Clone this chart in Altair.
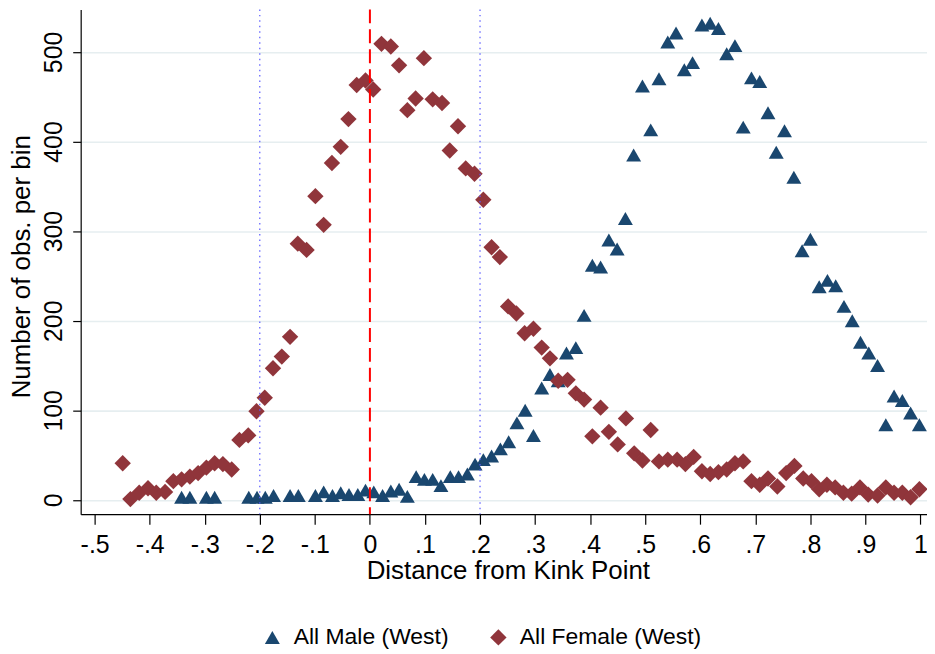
import altair as alt
import pandas as pd

# ---- data ----
male_x = [-0.342, -0.327, -0.297, -0.282, -0.220, -0.205, -0.190, -0.175, -0.145, -0.130,
          -0.099, -0.084, -0.068, -0.053, -0.038, -0.022, -0.008, 0.007, 0.023, 0.038,
          0.053, 0.068, 0.084, 0.099, 0.114, 0.129, 0.146, 0.161, 0.177, 0.191,
          0.206, 0.221, 0.237, 0.252, 0.267, 0.282, 0.297, 0.312, 0.327, 0.342,
          0.357, 0.374, 0.389, 0.404, 0.419, 0.434, 0.449, 0.464, 0.479, 0.495,
          0.510, 0.525, 0.541, 0.556, 0.571, 0.586, 0.603, 0.618, 0.633, 0.648,
          0.663, 0.678, 0.693, 0.708, 0.723, 0.738, 0.753, 0.770, 0.785, 0.800,
          0.816, 0.831, 0.846, 0.861, 0.876, 0.891, 0.906, 0.922, 0.937, 0.952,
          0.967, 0.982, 0.998]
male_y = [3, 3, 3, 3, 3, 3, 3, 5, 5, 5,
          5, 9, 5, 8, 6, 6, 11, 9, 5, 10,
          12, 4, 26, 23, 23, 16, 26, 26, 29, 40,
          45, 49, 57, 65, 86, 100, 72, 125, 140, 133,
          164, 170, 206, 262, 260, 290, 280, 314, 385, 462,
          413, 470, 511, 521, 480, 488, 530, 532, 526, 498,
          507, 416, 471, 467, 432, 388, 412, 360, 278, 291,
          238, 245, 239, 216, 200, 176, 164, 150, 84, 116,
          111, 97, 84]

female_x = [-0.449, -0.435, -0.419, -0.403, -0.388, -0.372, -0.357, -0.342, -0.327, -0.312,
            -0.297, -0.282, -0.267, -0.251, -0.237, -0.221, -0.206, -0.191, -0.176, -0.160,
            -0.145, -0.131, -0.115, -0.099, -0.084, -0.069, -0.053, -0.039, -0.024, -0.008,
            0.006, 0.021, 0.038, 0.053, 0.068, 0.083, 0.098, 0.114, 0.131, 0.145,
            0.160, 0.174, 0.190, 0.206, 0.221, 0.236, 0.251, 0.266, 0.281, 0.297,
            0.312, 0.327, 0.342, 0.359, 0.374, 0.389, 0.404, 0.419, 0.434, 0.450,
            0.465, 0.480, 0.495, 0.510, 0.525, 0.541, 0.558, 0.573, 0.588, 0.603,
            0.618, 0.633, 0.648, 0.663, 0.678, 0.693, 0.708, 0.723, 0.740, 0.756,
            0.771, 0.787, 0.802, 0.816, 0.830, 0.845, 0.860, 0.875, 0.890, 0.905,
            0.922, 0.937, 0.952, 0.967, 0.982, 0.998]
female_y = [41, 1, 8, 13, 8, 9, 21, 23, 26, 30,
            36, 41, 40, 34, 67, 72, 99, 114, 147, 160,
            182, 286, 279, 339, 307, 376, 394, 425, 463, 468,
            458, 509, 506, 485, 435, 448, 493, 447, 443, 390,
            417, 370, 364, 335, 282, 271, 216, 208, 186, 191,
            170, 158, 133, 134, 119, 112, 71, 103, 76, 62,
            91, 52, 44, 78, 43, 45, 45, 40, 48, 32,
            29, 31, 34, 41, 43, 21, 17, 24, 15, 30,
            38, 24, 21, 12, 17, 14, 8, 7, 14, 6,
            5, 14, 8, 8, 3, 12]

series_names = ["All Male (West)", "All Female (West)"]
series_colors = ["#1a476f", "#90353b"]
series_shapes = ["triangle-up", "diamond"]

x_ticks = [-0.5, -0.4, -0.3, -0.2, -0.1, 0.0, 0.1, 0.2, 0.3, 0.4, 0.5, 0.6, 0.7, 0.8, 0.9, 1.0]
x_tick_labels = ["-.5", "-.4", "-.3", "-.2", "-.1", "0", ".1", ".2", ".3", ".4", ".5",
                 ".6", ".7", ".8", ".9", "1"]
y_ticks = [0, 100, 200, 300, 400, 500]

kink_line = [0.0]
window_lines = [-0.2, 0.2]

# ---- tables ----
points = pd.concat([
    pd.DataFrame({"x": male_x, "count": male_y, "series": series_names[0]}),
    pd.DataFrame({"x": female_x, "count": female_y, "series": series_names[1]}),
], ignore_index=True)
kink_df = pd.DataFrame({"x": kink_line})
window_df = pd.DataFrame({"x": window_lines})

FONT = "Liberation Sans"
label_array = "[" + ",".join("'" + s + "'" for s in x_tick_labels) + "]"

x_scale = alt.Scale(domain=[-0.5253, 1.0118], nice=False, zero=False)
y_scale = alt.Scale(domain=[-15.9, 547.4], nice=False, zero=False)

X = alt.X(
    "x:Q",
    scale=x_scale,
    axis=alt.Axis(
        values=x_ticks,
        labelExpr=label_array + "[round((datum.value + 0.5) * 10)]",
        title="Distance from Kink Point",
        tickSize=10,
        labelPadding=8,
        labelFontSize=25,
        titleFontSize=26,
        titleX=429,
        titleY=65,
        titleAlign="center",
        titleBaseline="alphabetic",
        grid=False,
    ),
)
Y = alt.Y(
    "count:Q",
    scale=y_scale,
    axis=alt.Axis(
        values=y_ticks,
        format="d",
        title="Number of obs. per bin",
        labelAngle=270,
        labelAlign="center",
        labelBaseline="alphabetic",
        labelPadding=11,
        tickSize=8,
        labelFontSize=25,
        titleFontSize=26,
        titleAngle=270,
        titleX=-59,
        titleY=258,
        titleAlign="center",
        titleBaseline="middle",
        grid=True,
        gridColor="#e6eef0",
        gridWidth=1.6,
    ),
)

pts = alt.Chart(points).mark_point(filled=True, opacity=1, strokeWidth=0).encode(
    x=X,
    y=Y,
    color=alt.Color("series:N", scale=alt.Scale(domain=series_names, range=series_colors),
                    legend=alt.Legend(title=None, orient="none", direction="horizontal",
                                      legendX=181, legendY=619, labelFontSize=23,
                                      labelFont=FONT, labelOffset=10, columnPadding=38,
                                      labelLimit=0, symbolSize=240, symbolStrokeWidth=0,
                                      padding=0, labelColor="black")),
    shape=alt.Shape("series:N", scale=alt.Scale(domain=series_names, range=series_shapes)),
    size=alt.Size("series:N", scale=alt.Scale(domain=series_names, range=[225, 270]),
                  legend=None),
    order=alt.Order("order_idx:Q"),
).transform_calculate(order_idx="datum.series == '" + series_names[0] + "' ? 0 : 1")

windows = alt.Chart(window_df).mark_rule(color="#5a5aff", strokeWidth=1.2,
                                         strokeDash=[1.5, 4]).encode(x=X)
kink = alt.Chart(kink_df).mark_rule(color="#ff0000", strokeWidth=2,
                                    strokeDash=[14, 6]).encode(x=X)

chart = alt.layer(pts, windows, kink).properties(
    width=850,
    height=507,
    padding={"left": 73, "top": 0, "right": 0, "bottom": 139},
    autosize=alt.AutoSizeParams(type="none"),
    background="white",
).configure_view(stroke=None).configure_axis(
    labelFont=FONT, titleFont=FONT, labelColor="black", titleColor="black",
    domainColor="black", tickColor="black", domainWidth=1.2, tickWidth=1.2,
    titleFontWeight="normal",
)

chart.save("out.html", embed_options={"renderer": "svg", "actions": False})
